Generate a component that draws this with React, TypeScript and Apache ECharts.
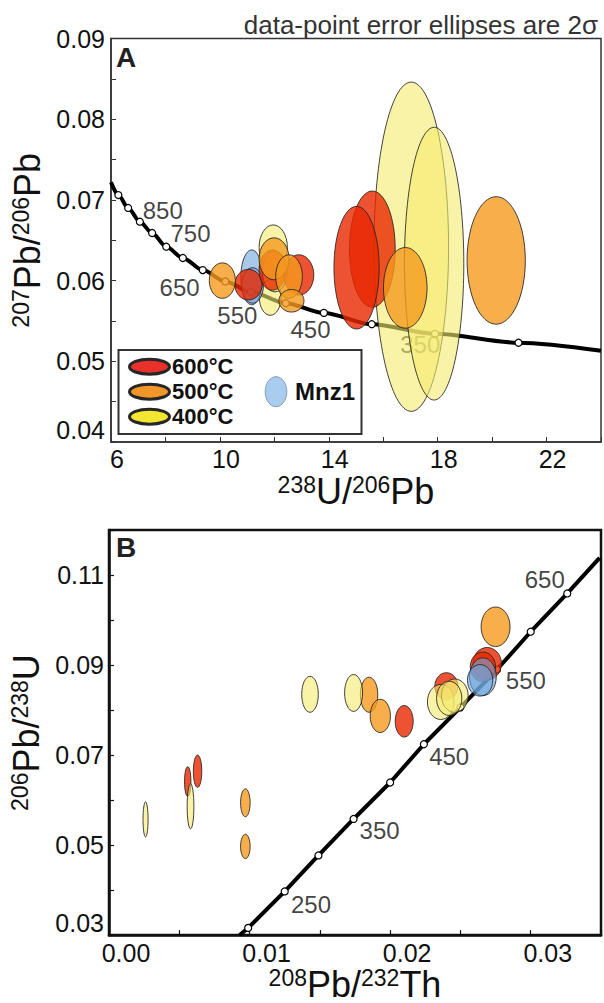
import React, { useEffect, useRef } from 'react';
import * as echarts from 'echarts';

const FONT = '"Liberation Sans", Arial, Helvetica, sans-serif';
const INK = '#111';

// ---------- Panel A: 238U/206Pb vs 207Pb/206Pb ----------
const concordiaA_dotsX = [6.27, 6.63, 7.06, 7.51, 8.03, 8.64, 9.37, 10.2, 11.14, 12.42, 13.82, 15.58, 17.9, 20.97];
const concordiaA_dotsY = [0.0706, 0.069, 0.0673, 0.0659, 0.0642, 0.0628, 0.0613, 0.0599, 0.0586, 0.0572, 0.056, 0.0546, 0.0534, 0.0523];
const concordiaA_start = [6.0, 0.0722];
const concordiaA_end = [24.0, 0.0513];
const agesA = ['850', '750', '650', '550', '450', '350'];
const agesA_x = [7.9, 8.92, 8.52, 10.64, 13.33, 17.36];
const agesA_y = [0.0687, 0.0658, 0.0591, 0.0557, 0.0539, 0.0521];

// ellipses: [x, y, half-width x, half-height y]
const a600 = [
  [15.6, 0.0639, 0.84, 0.0072],
  [15.02, 0.0616, 0.83, 0.0076],
  [11.05, 0.0595, 0.5, 0.0019],
  [11.93, 0.0613, 0.49, 0.0025],
  [12.9, 0.0607, 0.55, 0.0025],
];
const a500 = [
  [20.15, 0.0625, 1.07, 0.0079],
  [16.81, 0.0591, 0.8, 0.005],
  [10.09, 0.06, 0.48, 0.0022],
  [11.99, 0.0627, 0.55, 0.0026],
  [12.54, 0.0605, 0.49, 0.0027],
  [12.63, 0.0575, 0.46, 0.0014],
];
const a400 = [
  [17.03, 0.0642, 1.37, 0.0204],
  [17.87, 0.0621, 1.09, 0.0169],
  [11.96, 0.0641, 0.52, 0.0028],
  [11.85, 0.0579, 0.4, 0.0022],
  [12.02, 0.0611, 0.46, 0.0025],
];
const aMnz1 = [
  [11.17, 0.0604, 0.4, 0.0034],
  [11.2, 0.0594, 0.4, 0.0022],
];

// ---------- Panel B: 208Pb/232Th vs 206Pb/238U ----------
const concordiaB_dotsX = [0.0099, 0.0125, 0.0149, 0.0174, 0.02, 0.0224, 0.025, 0.0276, 0.03, 0.0326];
const concordiaB_dotsY = [0.0316, 0.0397, 0.0477, 0.0558, 0.0639, 0.0724, 0.0806, 0.089, 0.0974, 0.1059];
const concordiaB_start = [0.0093, 0.03];
const concordiaB_end = [0.0349, 0.1138];
const agesB = ['650', '550', '450', '350', '250'];
const agesB_x = [0.031, 0.02965, 0.0242, 0.01925, 0.01437];
const agesB_y = [0.109, 0.0865, 0.0697, 0.0532, 0.0368];

const b600 = [
  [0.0056, 0.0641, 0.00023, 0.0033],
  [0.0063, 0.0664, 0.0003, 0.0036],
  [0.021, 0.0775, 0.00064, 0.0035],
  [0.024, 0.0853, 0.00082, 0.003],
  [0.0269, 0.0903, 0.00102, 0.0036],
  [0.0266, 0.0896, 0.0009, 0.0033],
];
const b500 = [
  [0.0097, 0.0594, 0.00034, 0.0031],
  [0.0097, 0.0497, 0.00034, 0.0027],
  [0.0185, 0.0834, 0.00062, 0.0039],
  [0.0193, 0.0787, 0.00072, 0.0037],
  [0.0275, 0.0985, 0.00103, 0.0044],
];
const b400 = [
  [0.0026, 0.0557, 0.00018, 0.0039],
  [0.0058, 0.0586, 0.00024, 0.005],
  [0.0143, 0.0835, 0.00059, 0.004],
  [0.0174, 0.0838, 0.00064, 0.0041],
  [0.0236, 0.0818, 0.00095, 0.0039],
  [0.0246, 0.0832, 0.00095, 0.0037],
  [0.0242, 0.0826, 0.0009, 0.0038],
];
const bMnz1 = [
  [0.0266, 0.0874, 0.00095, 0.0042],
  [0.0264, 0.0866, 0.0009, 0.0035],
];

const legendLabels = ['600°C', '500°C', '400°C'];
const legendColors = ['#E8312A', '#F2962A', '#F4E731'];

const FILL_RED = 'rgba(232,40,0,0.8)';
const FILL_ORANGE = 'rgba(245,154,30,0.8)';
const FILL_YELLOW = 'rgba(245,235,110,0.6)';
const FILL_BLUE = 'rgba(110,165,220,0.6)';

function ellipseSeries(name: string, data: number[][], fill: string, z: number, idx: number) {
  return {
    type: 'custom',
    name,
    xAxisIndex: idx,
    yAxisIndex: idx,
    z,
    clip: true,
    data,
    encode: { x: 0, y: 1 },
    renderItem: (_p: any, api: any) => {
      const c = api.coord([api.value(0), api.value(1)]);
      const s = api.size([api.value(2), api.value(3)]);
      return {
        type: 'ellipse',
        shape: { cx: c[0], cy: c[1], rx: Math.abs(s[0]), ry: Math.abs(s[1]) },
        style: { fill, stroke: 'rgba(35,35,35,0.85)', lineWidth: 1 },
      };
    },
  };
}

function richName(text: string) {
  return {
    text,
    rich: {
      s: { fontSize: 23, fontFamily: FONT, color: INK, verticalAlign: 'top', lineHeight: 23 },
      m: { fontSize: 36, fontFamily: FONT, color: INK, verticalAlign: 'bottom', lineHeight: 36 },
    },
  };
}

const tickLabel = {
  color: INK,
  fontSize: 25,
  fontFamily: FONT,
};

export default function App() {
  const ref = useRef<HTMLDivElement>(null);
  useEffect(() => {
    if (!ref.current) return;
    const chart = echarts.init(ref.current, undefined, { renderer: 'svg' });

    const curveA = [concordiaA_start, ...concordiaA_dotsX.map((x, i) => [x, concordiaA_dotsY[i]]), concordiaA_end];
    const curveB = [concordiaB_start, ...concordiaB_dotsX.map((x, i) => [x, concordiaB_dotsY[i]]), concordiaB_end];

    const axisA = { lineStyle: { color: '#333', width: 1.5 }, onZero: false };
    const axisB = { lineStyle: { color: '#111', width: 2.5 }, onZero: false };

    const nameA_x = richName('{s|238}{m|U/}{s|206}{m|Pb}');
    const nameA_y = richName('{s|207}{m|Pb/}{s|206}{m|Pb}');
    const nameB_x = richName('{s|208}{m|Pb/}{s|232}{m|Th}');
    const nameB_y = richName('{s|206}{m|Pb/}{s|238}{m|U}');

    const legendGraphics: any[] = [
      {
        type: 'rect',
        shape: { x: 118.5, y: 350, width: 243, height: 84 },
        style: { fill: '#fff', stroke: '#333', lineWidth: 2 },
        z: 100,
      },
    ];
    legendLabels.forEach((lab, i) => {
      const cy = 366.7 + i * 25;
      legendGraphics.push({
        type: 'ellipse',
        shape: { cx: 149.5, cy, rx: 20, ry: 7.5 },
        style: { fill: legendColors[i], stroke: '#262626', lineWidth: 3 },
        z: 101,
      });
      legendGraphics.push({
        type: 'text',
        x: 172,
        y: cy,
        style: { text: lab, font: `bold 22px ${FONT}`, fill: INK, textAlign: 'left', textVerticalAlign: 'middle' },
        z: 101,
      });
    });
    legendGraphics.push({
      type: 'ellipse',
      shape: { cx: 276, cy: 391.7, rx: 10.8, ry: 15 },
      style: { fill: '#A8CDEE', stroke: '#8b9bb0', lineWidth: 1 },
      z: 101,
    });
    legendGraphics.push({
      type: 'text',
      x: 295,
      y: 391.7,
      style: { text: 'Mnz1', font: `bold 24px ${FONT}`, fill: INK, textAlign: 'left', textVerticalAlign: 'middle' },
      z: 101,
    });

    const option: any = {
      animation: false,
      backgroundColor: '#fff',
      grid: [
        { left: 111, top: 38.5, width: 492, height: 403.5, show: true, borderColor: '#333', borderWidth: 1.5 },
        { left: 109, top: 530, width: 494, height: 407, show: true, borderColor: '#111', borderWidth: 2.5 },
      ],
      xAxis: [
        {
          gridIndex: 0,
          type: 'value',
          min: 6,
          max: 24,
          interval: 2,
          axisLine: axisA,
          axisTick: { inside: true, length: 5, lineStyle: { color: '#333', width: 1 } },
          splitLine: { show: false },
          axisLabel: {
            ...tickLabel,
            margin: 4,
            padding: [0, 0, 0, 12],
            formatter: (v: number) => (Math.round(v) % 4 === 2 && v < 23 ? String(Math.round(v)) : ''),
          },
          name: nameA_x.text,
          nameLocation: 'middle',
          nameGap: 31,
          nameTextStyle: { rich: nameA_x.rich },
        },
        {
          gridIndex: 1,
          type: 'value',
          min: 0,
          max: 0.035,
          interval: 0.005,
          axisLine: axisB,
          axisTick: { inside: true, length: 5, lineStyle: { color: '#111', width: 1.2 } },
          splitLine: { show: false },
          axisLabel: {
            ...tickLabel,
            margin: 5,
            padding: [0, 0, 0, 34],
            formatter: (v: number) => (Math.round(v * 1000) % 10 === 0 && v < 0.034 ? v.toFixed(2) : ''),
          },
          name: nameB_x.text,
          nameLocation: 'middle',
          nameGap: 29,
          nameTextStyle: { rich: nameB_x.rich },
        },
      ],
      yAxis: [
        {
          gridIndex: 0,
          type: 'value',
          min: 0.04,
          max: 0.09,
          interval: 0.005,
          axisLine: axisA,
          axisTick: { inside: true, length: 5, lineStyle: { color: '#333', width: 1 } },
          splitLine: { show: false },
          axisLabel: {
            ...tickLabel,
            margin: 6,
            verticalAlignMinLabel: 'bottom',
            formatter: (v: number) => (Math.round(v * 1000) % 10 === 0 ? v.toFixed(2) : ''),
          },
          name: nameA_y.text,
          nameLocation: 'middle',
          nameGap: 64,
          nameRotate: 90,
          nameTextStyle: { rich: nameA_y.rich },
        },
        {
          gridIndex: 1,
          type: 'value',
          min: 0.03,
          max: 0.12,
          interval: 0.01,
          axisLine: axisB,
          axisTick: { inside: true, length: 5, lineStyle: { color: '#111', width: 1.2 } },
          splitLine: { show: false },
          axisLabel: {
            ...tickLabel,
            margin: 5,
            verticalAlignMinLabel: 'bottom',
            formatter: (v: number) => (Math.round(v * 100) % 2 === 1 && v < 0.115 ? v.toFixed(2) : ''),
          },
          name: nameB_y.text,
          nameLocation: 'middle',
          nameGap: 64,
          nameRotate: 90,
          nameTextStyle: { rich: nameB_y.rich },
        },
      ],
      graphic: [
        {
          type: 'text',
          x: 598,
          y: 25,
          style: {
            text: 'data-point error ellipses are 2σ',
            font: `26px ${FONT}`,
            fill: '#333',
            textAlign: 'right',
            textVerticalAlign: 'middle',
          },
        },
        {
          type: 'text',
          x: 126,
          y: 57,
          style: { text: 'A', font: `bold 28px ${FONT}`, fill: '#222', textAlign: 'center', textVerticalAlign: 'middle' },
          z: 100,
        },
        {
          type: 'text',
          x: 126,
          y: 547,
          style: { text: 'B', font: `bold 28px ${FONT}`, fill: '#222', textAlign: 'center', textVerticalAlign: 'middle' },
          z: 100,
        },
        ...legendGraphics,
      ],
      series: [
        // ----- A -----
        {
          type: 'line',
          xAxisIndex: 0,
          yAxisIndex: 0,
          data: curveA,
          smooth: 0.3,
          smoothMonotone: 'x',
          showSymbol: false,
          lineStyle: { color: '#000', width: 4 },
          z: 1,
          silent: true,
        },
        {
          type: 'scatter',
          xAxisIndex: 0,
          yAxisIndex: 0,
          data: concordiaA_dotsX.map((x, i) => [x, concordiaA_dotsY[i]]),
          symbol: 'circle',
          symbolSize: 7,
          itemStyle: { color: '#fff', borderColor: '#000', borderWidth: 1.2, opacity: 1 },
          z: 1,
        },
        {
          type: 'scatter',
          xAxisIndex: 0,
          yAxisIndex: 0,
          data: agesA.map((a, i) => ({ name: a, value: [agesA_x[i], agesA_y[i]] })),
          symbolSize: 0,
          itemStyle: { color: 'transparent' },
          label: { show: true, position: 'inside', formatter: '{b}', color: INK, fontSize: 24, fontFamily: FONT },
          z: 1,
        },
        ellipseSeries('400°C A', a400, FILL_YELLOW, 2, 0),
        ellipseSeries('Mnz1 A', aMnz1, FILL_BLUE, 3, 0),
        ellipseSeries('600°C A', a600, FILL_RED, 4, 0),
        ellipseSeries('500°C A', a500, FILL_ORANGE, 5, 0),
        // ----- B -----
        {
          type: 'line',
          xAxisIndex: 1,
          yAxisIndex: 1,
          data: curveB,
          showSymbol: false,
          lineStyle: { color: '#000', width: 4 },
          z: 1,
          silent: true,
        },
        {
          type: 'scatter',
          xAxisIndex: 1,
          yAxisIndex: 1,
          data: concordiaB_dotsX.map((x, i) => [x, concordiaB_dotsY[i]]),
          symbol: 'circle',
          symbolSize: 7,
          itemStyle: { color: '#fff', borderColor: '#000', borderWidth: 1.2, opacity: 1 },
          z: 1,
        },
        {
          type: 'scatter',
          xAxisIndex: 1,
          yAxisIndex: 1,
          data: agesB.map((a, i) => ({ name: a, value: [agesB_x[i], agesB_y[i]] })),
          symbolSize: 0,
          itemStyle: { color: 'transparent' },
          label: { show: true, position: 'inside', formatter: '{b}', color: INK, fontSize: 24, fontFamily: FONT },
          z: 1,
        },
        ellipseSeries('600°C B', b600, FILL_RED, 2, 1),
        ellipseSeries('500°C B', b500, FILL_ORANGE, 3, 1),
        ellipseSeries('400°C B', b400, FILL_YELLOW, 4, 1),
        ellipseSeries('Mnz1 B', bMnz1, FILL_BLUE, 5, 1),
      ],
    };

    chart.setOption(option);
    return () => chart.dispose();
  }, []);

  return (
    <div
      ref={ref}
      style={{ position: 'absolute', left: 0, top: 0, width: 604, height: 1003, background: '#fff' }}
    />
  );
}
